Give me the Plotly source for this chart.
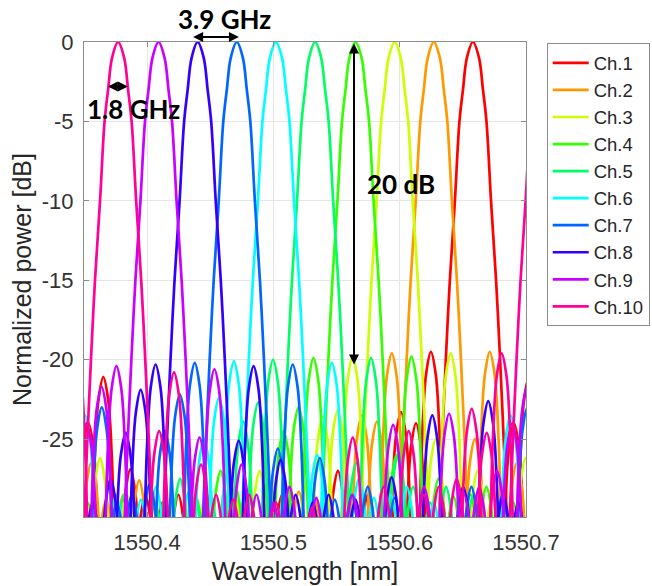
import plotly.graph_objects as go

# ---------------- data ----------------
CHANNELS = ["Ch.1", "Ch.2", "Ch.3", "Ch.4", "Ch.5", "Ch.6", "Ch.7", "Ch.8", "Ch.9", "Ch.10"]
COLORS = ["#ff0000", "#ff9900", "#ccff00", "#33ff00", "#00ff66",
          "#00ffff", "#0066ff", "#3300ff", "#cc00ff", "#ff0099"]

# centre wavelength of each channel's pass band [nm]
CENTER_NM = [1550.658, 1550.627, 1550.596, 1550.565, 1550.533,
             1550.502, 1550.471, 1550.440, 1550.409, 1550.377]
# free spectral range (next order of Ch.10 enters at the right edge) [nm]
FSR_NM = 0.337
ORDERS = [-1, 0, 1]

# main lobe profile: offset from centre [nm] and level [dB]
MAIN_OFFSET_NM = [-0.0300, -0.0267, -0.0243, -0.0215, -0.0183, -0.0143, -0.0107, -0.0079, -0.0048, 0.0,
                  0.0048, 0.0079, 0.0107, 0.0143, 0.0183, 0.0215, 0.0243, 0.0267, 0.0300]
MAIN_DB = [-45, -30, -25, -20, -15, -10, -5, -3, -1, 0,
           -1, -3, -5, -10, -15, -20, -25, -30, -45]

# side-lobe positions relative to the channel centre [nm]
SIDE_OFFSET_NM = [-0.1512, -0.1267, -0.1069, -0.0950, -0.0831, -0.0689, -0.0570, -0.0451, -0.0333,
                  0.0325, 0.0443, 0.0657, 0.0776, 0.0911, 0.1037, 0.1250, 0.1536]
# shape of one side lobe around its peak: offset [nm], level relative to peak [dB]
SIDE_SHAPE_OFFSET_NM = [-0.0108, -0.0091, -0.0066, -0.0038, 0.0, 0.0038, 0.0066, 0.0091, 0.0108]
SIDE_SHAPE_DB = [-30, -12, -4.8, -1.4, 0, -1.4, -4.8, -12, -30]

# side-lobe peak levels per channel [dB] (None = not visible)
SIDE_DB_CH1 = [-28.5, -28.8, -27.0, -29.0, -28.5, -27.0, -23.3, -24.0, -19.5, -24.0, -21.1, -26.9, -28.5, -29.0, -28.5, -28.8, None]
SIDE_DB_CH2 = [-29.0, -28.6, -28.3, -28.5, -29.0, -28.0, -23.5, -23.9, -19.6, -25.0, -19.5, -26.5, -28.8, -28.5, -27.6, -29.0, None]
SIDE_DB_CH3 = [-29.0, -28.5, -27.0, -28.8, -28.0, -27.5, -23.6, -23.2, -19.8, -25.0, -19.6, -27.0, -28.5, -29.0, -26.2, -28.5, None]
SIDE_DB_CH4 = [-28.8, -28.5, -27.0, -28.0, -29.0, -27.5, -24.5, -23.0, -19.9, -26.0, -19.8, -27.5, -28.6, -28.5, -28.0, -29.0, None]
SIDE_DB_CH5 = [-28.5, -29.0, -27.5, -28.7, -28.5, -27.0, -23.9, -22.7, -20.0, -26.5, -19.9, -26.0, -28.0, -29.0, -28.0, -28.6, None]
SIDE_DB_CH6 = [-23.5, -28.5, -28.8, -28.0, -29.0, -28.3, -25.0, -22.4, -20.1, -26.0, -20.2, -27.5, -28.7, -28.5, -28.0, -29.0, None]
SIDE_DB_CH7 = [-28.0, -28.5, -23.0, -29.0, -28.5, -27.8, -24.5, -22.2, -20.2, -25.6, -20.3, -26.2, -28.8, -28.5, -28.0, -28.7, None]
SIDE_DB_CH8 = [-23.5, -28.0, -22.6, -28.5, -29.0, -27.5, -24.6, -21.9, -20.3, -25.1, -20.4, -26.3, -28.5, -29.0, -28.5, -28.8, -27.4]
SIDE_DB_CH9 = [-24.1, -28.0, -23.4, -28.5, -28.0, -27.0, -24.0, -21.7, -20.4, -24.9, -20.6, -26.6, -28.5, -29.0, -28.0, -28.7, -28.5]
SIDE_DB_CH10 = [-24.9, -28.0, -24.5, -28.5, -28.0, -27.5, -23.1, -24.6, -19.6, -24.5, -20.8, -26.6, -28.5, -28.8, -28.5, -29.0, -29.3]
SIDE_DB = [SIDE_DB_CH1, SIDE_DB_CH2, SIDE_DB_CH3, SIDE_DB_CH4, SIDE_DB_CH5,
           SIDE_DB_CH6, SIDE_DB_CH7, SIDE_DB_CH8, SIDE_DB_CH9, SIDE_DB_CH10]

X_TICKS = [1550.4, 1550.5, 1550.6, 1550.7]
Y_TICKS = [0, -5, -10, -15, -20, -25]
X_RANGE = [1550.35, 1550.7]
Y_RANGE = [-29.9, 0]

# annotations: (text, wavelength, vertical position as fraction of plot height)
LABEL_39 = ("3.9 GHz", 1550.4614, 1.048)
LABEL_18 = ("1.8 GHz", 1550.3891, 0.860)
LABEL_20 = ("20 dB", 1550.6008, 0.702)
# arrows: (x0, y0, x1, y1) wavelength / fraction of plot height
ARROW_39 = (1550.4352, 1.0107, 1550.4727, 1.0107)
ARROW_18 = (1550.3677, 0.9064, 1550.3848, 0.9064)
ARROW_20 = (1550.5638, 1.0, 1550.5638, 0.3211)

# ---------------- figure ----------------
fig = go.Figure()
for name, color, c, levels in zip(CHANNELS, COLORS, CENTER_NM, SIDE_DB):
    xs, ys = [], []
    for k in ORDERS:
        base = c + k * FSR_NM
        for off, db in zip(MAIN_OFFSET_NM, MAIN_DB):
            xs.append(base + off)
            ys.append(db)
        xs.append(None); ys.append(None)
        for loff, lev in zip(SIDE_OFFSET_NM, levels):
            if lev is None:
                continue
            for soff, sdb in zip(SIDE_SHAPE_OFFSET_NM, SIDE_SHAPE_DB):
                xs.append(base + loff + soff)
                ys.append(lev + sdb)
            xs.append(None); ys.append(None)
    fig.add_trace(go.Scatter(x=xs, y=ys, mode="lines", name=name,
                             line=dict(color=color, width=2.7, shape="spline", smoothing=1.0),
                             connectgaps=False))

axis_common = dict(showline=True, linecolor="#8c8c8c", linewidth=1, mirror="ticks",
                   ticks="inside", ticklen=5, tickcolor="#8c8c8c",
                   showgrid=True, gridcolor="#e6e6e6", gridwidth=1, zeroline=False,
                   tickfont=dict(family="Liberation Sans, Arial", size=22, color="#333333"),
                   automargin=False)

fig.update_xaxes(range=X_RANGE, tickvals=X_TICKS, ticktext=[f"{v:.1f}" for v in X_TICKS],
                 title=dict(text="Wavelength [nm]", standoff=8,
                            font=dict(family="Liberation Sans, Arial", size=25, color="#262626")),
                 ticklabelstandoff=6, **axis_common)
fig.update_yaxes(range=Y_RANGE, tickvals=Y_TICKS, ticktext=[str(v) for v in Y_TICKS],
                 title=dict(text="Normalized power [dB]", standoff=3,
                            font=dict(family="Liberation Sans, Arial", size=25, color="#262626")),
                 ticklabelstandoff=5, **axis_common)

bold = dict(family="Lato, Open Sans, sans-serif", size=26, color="black", weight="bold")
annotations = []
for text, x, y in (LABEL_39, LABEL_18, LABEL_20):
    annotations.append(dict(text=text, x=x, y=y, xref="x", yref="y domain", showarrow=False,
                            font=bold, xanchor="center", yanchor="middle"))
for x0, y0, x1, y1 in (ARROW_39, ARROW_18, ARROW_20):
    annotations.append(dict(text="", x=x1, y=y1, ax=x0, ay=y0, xref="x", yref="y domain",
                            axref="x", ayref="y domain", showarrow=True, arrowhead=2, startarrowhead=2,
                            arrowside="end+start", arrowwidth=2, arrowsize=1, startarrowsize=1,
                            arrowcolor="black", standoff=0, startstandoff=0))

fig.update_layout(
    width=652, height=586,
    margin=dict(l=84, r=126, t=42, b=69, pad=0),
    paper_bgcolor="white", plot_bgcolor="white",
    showlegend=True,
    legend=dict(xref="container", yref="container", x=0.8385, y=0.926,
                xanchor="left", yanchor="top",
                bgcolor="white", bordercolor="#8c8c8c", borderwidth=1,
                font=dict(family="Liberation Sans, Arial", size=18.5, color="#262626"),
                tracegroupgap=0, itemwidth=36),
    annotations=annotations,
)

fig.write_html("out.html", config={"displayModeBar": False},
               post_script="document.body.style.margin='0';")
